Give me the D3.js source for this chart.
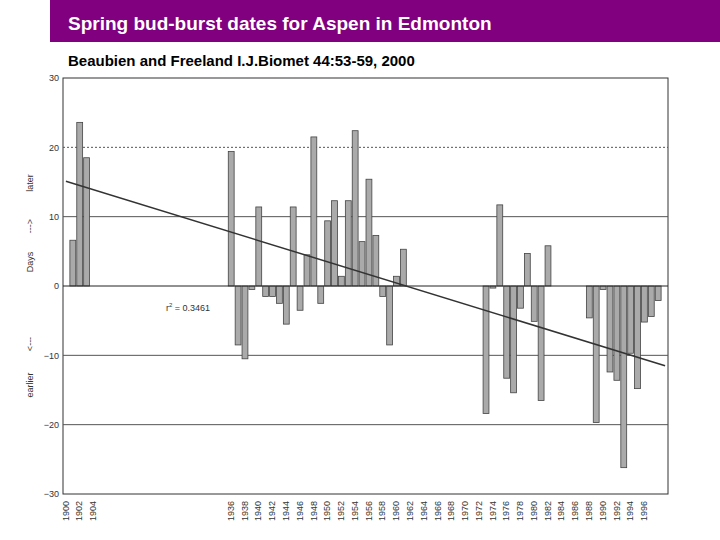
<!DOCTYPE html><html><head><meta charset="utf-8"><script src="https://cdn.jsdelivr.net/npm/d3@7"></script>
<style>body{margin:0;background:#fff}</style></head><body><svg id="c" width="720" height="540"></svg><script>
const years=[1901,1902,1903,1936,1937,1938,1939,1940,1941,1942,1943,1944,1945,1946,1947,1948,1949,1950,1951,1952,1953,1954,1955,1956,1957,1958,1959,1960,1961,1973,1974,1975,1976,1977,1978,1979,1980,1981,1982,1988,1989,1990,1991,1992,1993,1994,1995,1996,1997,1998];
const days=[6.6,23.6,18.5,19.4,-8.5,-10.5,-0.5,11.4,-1.5,-1.5,-2.5,-5.5,11.4,-3.5,4.5,21.5,-2.5,9.4,12.3,1.4,12.3,22.4,6.4,15.4,7.3,-1.5,-8.5,1.4,5.3,-18.4,-0.3,11.7,-13.3,-15.4,-3.2,4.7,-5.1,-16.5,5.8,-4.6,-19.7,-0.5,-12.4,-13.6,-26.2,-9.7,-14.8,-5.2,-4.4,-2.1];
const categories=[...d3.range(1900,1905).map(String),...d3.range(19).map(i=>"gap"+i),...d3.range(1936,2000).map(String)];
const tickYears=[...d3.range(1900,1905,2),...d3.range(1936,1997,2)].map(String);
const yTicks=[-30,-20,-10,0,10,20,30];
const trend=[["1900",15.1],["1999",-11.5]];
const svg=d3.select("#c");
svg.append("rect").attr("x",50).attr("y",0).attr("width",670).attr("height",42).attr("fill","#800080");
svg.append("text").attr("x",68).attr("y",30).attr("fill","#fff").attr("font-family","Liberation Sans").attr("font-weight","bold").attr("font-size",19).text("Spring bud-burst dates for Aspen in Edmonton");
svg.append("text").attr("x",68).attr("y",66).attr("font-family","Liberation Sans").attr("font-weight","bold").attr("font-size",15).text("Beaubien and Freeland I.J.Biomet 44:53-59, 2000");
const x=d3.scaleBand().domain(categories).range([63,668]).paddingInner(0.15);
const y=d3.scaleLinear().domain([-30,30]).range([494,78]);
const g=svg.append("g");
g.append("rect").attr("x",63).attr("y",78).attr("width",605).attr("height",416).attr("fill","none").attr("stroke","#333");
yTicks.filter(t=>t!==0&&Math.abs(t)!==30).forEach(t=>g.append("line").attr("x1",63).attr("x2",668).attr("y1",y(t)).attr("y2",y(t)).attr("stroke","#555").attr("stroke-dasharray",t==20?"2,2":null));
g.append("g").attr("transform","translate(63,0)").call(d3.axisLeft(y).tickValues(yTicks).tickSize(0).tickPadding(4)).call(a=>a.select(".domain").remove()).selectAll("text").attr("font-size",9).attr("font-family","Liberation Sans").attr("fill","#333");
g.selectAll(".b").data(years).join("rect").attr("x",d=>x(String(d))).attr("width",x.bandwidth()).attr("y",(d,i)=>y(Math.max(0,days[i]))).attr("height",(d,i)=>Math.abs(y(days[i])-y(0))).attr("fill","#aaa").attr("stroke","#444").attr("stroke-width",0.8);
g.append("line").attr("x1",63).attr("x2",668).attr("y1",y(0)).attr("y2",y(0)).attr("stroke","#222");
const xa=g.append("g").attr("transform","translate(0,497)").call(d3.axisBottom(x).tickValues(tickYears).tickSize(0));
xa.select(".domain").remove();
xa.selectAll("text").attr("font-size",9).attr("font-family","Liberation Sans").attr("fill","#333").attr("transform","rotate(-90)").attr("text-anchor","end").attr("dy","0.3em").attr("x",-4).attr("y",0);
const cx=c=>x(c)+x.bandwidth()/2;
g.append("line").attr("x1",cx(trend[0][0])).attr("y1",y(trend[0][1])).attr("x2",cx(trend[1][0])).attr("y2",y(trend[1][1])).attr("stroke","#333").attr("stroke-width",1.5);
g.append("text").attr("x",166).attr("y",311).attr("font-size",9).attr("font-family","Liberation Sans").attr("fill","#333").html("r<tspan dy='-4' font-size='6'>2</tspan><tspan dy='4'> = 0.3461</tspan>");
[["later",183],["--->",226],["Days",262],["<---",344],["earlier",385]].forEach(([t,yy])=>svg.append("text").attr("transform",`translate(33,${yy}) rotate(-90)`).attr("text-anchor","middle").attr("font-size",9).attr("font-family","Liberation Sans").attr("fill","#333").text(t));
</script></body></html>
